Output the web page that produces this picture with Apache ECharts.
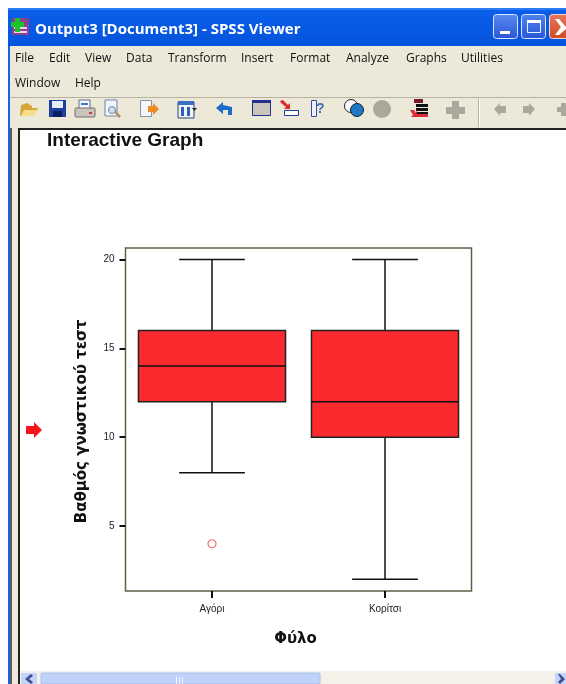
<!DOCTYPE html>
<html>
<head>
<meta charset="utf-8">
<title>SPSS Viewer</title>
<script src="https://cdn.jsdelivr.net/npm/echarts@6/dist/echarts.min.js"></script>
<style>
html, body { margin: 0; padding: 0; background: #fff; overflow: hidden; }
#charts { width: 566px; height: 684px; }
</style>
</head>
<body>
<div id="charts"></div>
<script>
// data
var categories = ['Αγόρι', 'Κορίτσι'];
var whiskerLow = [8, 2];
var boxLow = [12, 10];
var medians = [14, 12];
var boxHigh = [16, 16];
var whiskerHigh = [20, 20];
var outliers = [[0, 4]];
var yTicks = [5, 10, 15, 20];
var menuRow1 = [['File', 15], ['Edit', 49], ['View', 85], ['Data', 126], ['Transform', 168], ['Insert', 241], ['Format', 290], ['Analyze', 346], ['Graphs', 406], ['Utilities', 461]];
var menuRow2 = [['Window', 15], ['Help', 75]];

var myChart = echarts.init(document.getElementById('charts'), null, { renderer: 'canvas' });

// dithered red of the boxes
function boxPattern() {
    var c = document.createElement('canvas');
    c.width = 2;
    c.height = 2;
    var ctx = c.getContext('2d');
    ctx.fillStyle = '#ff2226';
    ctx.fillRect(0, 0, 2, 2);
    ctx.fillStyle = '#f53236';
    ctx.fillRect(0, 0, 1, 1);
    ctx.fillRect(1, 1, 1, 1);
    return { image: c, repeat: 'repeat' };
}
var boxFill = boxPattern();

// window chrome helpers
function rect(x, y, w, h, fill, r, stroke) {
    return {
        type: 'rect', silent: true,
        shape: { x: x, y: y, width: w, height: h, r: r || 0 },
        style: { fill: fill, stroke: stroke || null, lineWidth: stroke ? 1 : 0 }
    };
}
function poly(points, fill) {
    return { type: 'polygon', silent: true, shape: { points: points }, style: { fill: fill } };
}
function circle(cx, cy, r, fill, stroke) {
    return { type: 'circle', silent: true, shape: { cx: cx, cy: cy, r: r }, style: { fill: fill, stroke: stroke || null, lineWidth: stroke ? 1 : 0 } };
}
function label(text, x, y, font, fill) {
    return {
        type: 'text', silent: true, x: x, y: y,
        style: { text: text, font: font, fill: fill || '#111', textVerticalAlign: 'middle', verticalAlign: 'middle' }
    };
}
function vgrad(a, b) {
    return new echarts.graphic.LinearGradient(0, 0, 0, 1, [{ offset: 0, color: a }, { offset: 1, color: b }]);
}

var chrome = [];
// frame
chrome.push(rect(8, 8, 558, 39, vgrad('#0a5fea', '#0453dc')));
chrome.push(rect(8, 8, 558, 2, '#2a7cf2'));
chrome.push(rect(8, 46, 2, 638, '#1a5fe8'));
chrome.push(rect(10, 46, 556, 84, '#ece9d8'));
chrome.push(rect(10, 97, 556, 1, '#b5b2a4'));
chrome.push(rect(10, 128, 2, 556, '#5c5c58'));
chrome.push(rect(12, 128, 6, 556, '#ece9d8'));
chrome.push(rect(18, 128, 548, 2, '#222'));
chrome.push(rect(18, 128, 2, 556, '#222'));
// title bar
chrome.push(rect(12, 18, 17, 17, '#8e3f8c'));
chrome.push(rect(14, 27, 13, 2, '#e8d8e8'));
chrome.push(rect(14, 31, 13, 2, '#e8d8e8'));
chrome.push(rect(15, 18, 5, 14, '#19c32a'));
chrome.push(rect(11, 22, 13, 5, '#19c32a'));
chrome.push(label('Output3 [Document3] - SPSS Viewer', 35, 30, 'bold 15px "Open Sans"', '#fff'));
chrome.push(rect(493.5, 14.5, 24, 24, vgrad('#5b8cf0', '#2a55d8'), 3, '#dbe6fb'));
chrome.push(rect(500, 31, 10, 3, '#fff'));
chrome.push(rect(521.5, 14.5, 24, 24, vgrad('#4f84ee', '#2a55d8'), 3, '#dbe6fb'));
chrome.push(rect(527.5, 20.5, 13, 12, 'none', 0, '#e8f0ff'));
chrome.push(rect(527, 20, 14, 3, '#fff'));
chrome.push(rect(549.5, 14.5, 24, 24, vgrad('#e8785a', '#d04a22'), 3, '#f3d8d0'));
chrome.push(poly([[555, 19], [559, 19], [566, 27], [566, 29], [559, 35], [555, 35], [561, 27]], '#fff'));
// menus
menuRow1.forEach(function (m) { chrome.push(label(m[0], m[1], 58.5, '12px "Open Sans"')); });
menuRow2.forEach(function (m) { chrome.push(label(m[0], m[1], 83.5, '12px "Open Sans"')); });
// toolbar icons
chrome.push(poly([[21, 105], [27, 103], [32, 106], [32, 108], [38, 108], [33, 116], [20, 116]], '#d9a63e'));
chrome.push(poly([[24, 110], [38, 110], [33, 116], [21, 116]], '#f3dc8a'));
chrome.push(rect(49, 100, 17, 17, '#1e3f9e'));
chrome.push(rect(52, 101, 11, 7, '#e6ecf8'));
chrome.push(rect(53, 111, 9, 6, '#0d1f60'));
chrome.push(rect(79, 100, 11, 9, '#f4f6fb', 0, '#5c6d93'));
chrome.push(rect(81, 103, 7, 2, '#3a7bd0'));
chrome.push(rect(75, 108, 20, 9, '#cbc5c0', 1, '#7c6a6a'));
chrome.push(rect(89, 112, 3, 2, '#c04040'));
chrome.push(rect(105, 100, 12, 16, '#f2f4f8', 0, '#6a85ac'));
chrome.push(circle(112, 110, 3.5, '#cfe0f0', '#6a85ac'));
chrome.push(poly([[114, 112], [116, 111], [121, 116], [119, 118]], '#b0906a'));
chrome.push(rect(140.5, 100.5, 11, 16, '#f6f6f2', 0, '#7f95b5'));
chrome.push(poly([[148, 106], [153, 106], [153, 103], [159, 109], [153, 115], [153, 112], [148, 112]], '#ee8a22'));
chrome.push(rect(178, 102, 16, 16, '#f2f2f2', 0, '#2b3f7a'));
chrome.push(rect(178, 101, 16, 4, '#3b6fc4'));
chrome.push(rect(181, 107, 3, 9, '#2c5fb5'));
chrome.push(rect(187, 107, 3, 9, '#2c5fb5'));
chrome.push(poly([[192, 108], [197, 108], [194.5, 111]], '#222'));
chrome.push(poly([[216, 108], [223, 102], [223, 105], [232, 107], [232, 115], [228, 115], [228, 110], [223, 110], [223, 114]], '#1e6cc8'));
chrome.push(rect(252.5, 100.5, 18, 15, '#c9c5bb', 0, '#232f8f'));
chrome.push(rect(252, 100, 19, 3, '#232f8f'));
chrome.push(poly([[280, 101], [283, 100], [288, 105], [290, 103], [290, 109], [284, 109], [286, 107], [281, 103]], '#e02a2a'));
chrome.push(rect(284.5, 110.5, 14, 5, '#fff', 0, '#1f3aa0'));
chrome.push(rect(311.5, 100.5, 5, 16, '#eeeeff', 0, '#3a4aa0'));
chrome.push(label('?', 316, 109, 'bold 14px "Liberation Sans"', '#3a6fb8'));
chrome.push(circle(351, 106, 6.5, '#fff', '#222'));
chrome.push(circle(357, 110, 6.5, '#1f78c4', '#123'));
chrome.push(circle(382, 109, 9, '#aaa89a'));
chrome.push(rect(414, 99, 9, 4, '#7a1a22'));
chrome.push(rect(416, 104, 12, 3, '#111'));
chrome.push(rect(416, 108, 12, 3, '#111'));
chrome.push(rect(416, 112, 12, 2, '#111'));
chrome.push(rect(416, 114, 12, 3, '#e02a3a'));
chrome.push(poly([[410, 110], [414, 110], [416, 113], [417, 109], [417, 117], [411, 117], [413, 115]], '#e02a3a'));
chrome.push(rect(452, 101, 7, 18, '#aaa89a'));
chrome.push(rect(446, 107, 19, 7, '#aaa89a'));
chrome.push(rect(478, 98, 1, 29, '#b5b2a4'));
chrome.push(rect(479, 98, 1, 29, '#fff'));
chrome.push(poly([[494, 109], [500, 103], [500, 106], [506, 106], [506, 113], [500, 113], [500, 116]], '#aaa89a'));
chrome.push(poly([[535, 109], [529, 103], [529, 106], [523, 106], [523, 113], [529, 113], [529, 116]], '#aaa89a'));
chrome.push(rect(561, 103, 5, 13, '#aaa89a'));
chrome.push(rect(557, 107, 9, 5, '#aaa89a'));
// red arrow and heading
chrome.push(poly([[26, 426], [34, 426], [34, 422], [42, 430], [34, 438], [34, 434], [26, 434]], '#f8141c'));
chrome.push(label('Interactive Graph', 47, 141, 'bold 19px "Liberation Sans"', '#111'));
// scroll bar
chrome.push(rect(20, 671, 546, 13, '#f3f1ea'));
chrome.push(rect(21, 673, 16, 11, '#c3d3fb', 1));
chrome.push(poly([[31, 674], [33, 676], [29, 679], [33, 682], [31, 684], [25, 679]], '#3a4f8f'));
chrome.push(rect(41, 673, 279, 11, '#c0d2fa', 1, '#a8bff2'));
chrome.push(rect(176, 677, 1, 7, '#eef3ff'));
chrome.push(rect(179, 677, 1, 7, '#eef3ff'));
chrome.push(rect(182, 677, 1, 7, '#eef3ff'));
chrome.push(rect(555, 673, 11, 11, '#c3d3fb', 1));
chrome.push(poly([[558, 674], [560, 674], [565, 679], [560, 684], [558, 682], [561, 679]], '#3a4f8f'));

function renderBox(params, api) {
    var i = api.value(0);
    var band = api.size([1, 0])[0];
    var boxW = band * 0.85;
    var capW = band * 0.38;
    var lo = api.coord([i, api.value(1)]);
    var q1 = api.coord([i, api.value(2)]);
    var med = api.coord([i, api.value(3)]);
    var q3 = api.coord([i, api.value(4)]);
    var hi = api.coord([i, api.value(5)]);
    var x = lo[0];
    var line = { stroke: '#111', lineWidth: 1.5, fill: null };
    function seg(x1, y1, x2, y2) {
        return { type: 'line', shape: { x1: x1, y1: y1, x2: x2, y2: y2 }, style: line };
    }
    return {
        type: 'group',
        children: [
            seg(x, hi[1], x, q3[1]),
            seg(x, q1[1], x, lo[1]),
            seg(x - capW / 2, hi[1], x + capW / 2, hi[1]),
            seg(x - capW / 2, lo[1], x + capW / 2, lo[1]),
            {
                type: 'rect',
                shape: { x: x - boxW / 2, y: q3[1], width: boxW, height: q1[1] - q3[1] },
                style: { fill: boxFill, stroke: '#222', lineWidth: 1.5 }
            },
            seg(x - boxW / 2, med[1], x + boxW / 2, med[1])
        ]
    };
}

var boxData = [];
for (var i = 0; i < categories.length; i++) {
    boxData.push([i, whiskerLow[i], boxLow[i], medians[i], boxHigh[i], whiskerHigh[i]]);
}

var option = {
    animation: false,
    backgroundColor: '#fff',
    graphic: { elements: chrome },
    grid: {
        left: 125.5, top: 248, width: 346, height: 343,
        show: true, backgroundColor: '#fff', borderColor: '#5f5f48', borderWidth: 1.5
    },
    xAxis: {
        type: 'category',
        data: categories,
        name: 'Φύλο',
        nameLocation: 'middle',
        nameGap: 41,
        nameTextStyle: { fontFamily: 'DejaVu Sans', fontWeight: 'bold', fontSize: 15, color: '#111', padding: [0, 6, 0, 0] },
        axisLine: { show: false },
        axisTick: { show: true, alignWithLabel: true, length: 7, lineStyle: { color: '#111', width: 2 } },
        axisLabel: { fontFamily: 'Liberation Sans', fontSize: 10, color: '#222', margin: 13 },
        splitLine: { show: false }
    },
    yAxis: {
        type: 'value',
        min: 1.34,
        max: 20.65,
        name: 'Βαθμός γνωστικού τεστ',
        nameLocation: 'middle',
        nameGap: 36,
        nameTextStyle: { fontFamily: 'DejaVu Sans', fontWeight: 'bold', fontSize: 15, color: '#111', padding: [0, 4, 0, 0] },
        axisLine: { show: false },
        axisTick: { show: true, length: 6, customValues: yTicks, lineStyle: { color: '#111', width: 2 } },
        axisLabel: { customValues: yTicks, fontFamily: 'Liberation Sans', fontSize: 10, color: '#222', margin: 11 },
        splitLine: { show: false }
    },
    series: [
        {
            type: 'custom',
            renderItem: renderBox,
            encode: { x: 0, y: [1, 2, 3, 4, 5] },
            data: boxData,
            silent: true,
            z: 3
        },
        {
            type: 'scatter',
            data: outliers,
            symbol: 'circle',
            symbolSize: 8,
            itemStyle: { color: '#fff', borderColor: '#f04848', borderWidth: 1.2 },
            silent: true,
            z: 4
        }
    ]
};
myChart.setOption(option);
</script>
</body>
</html>
